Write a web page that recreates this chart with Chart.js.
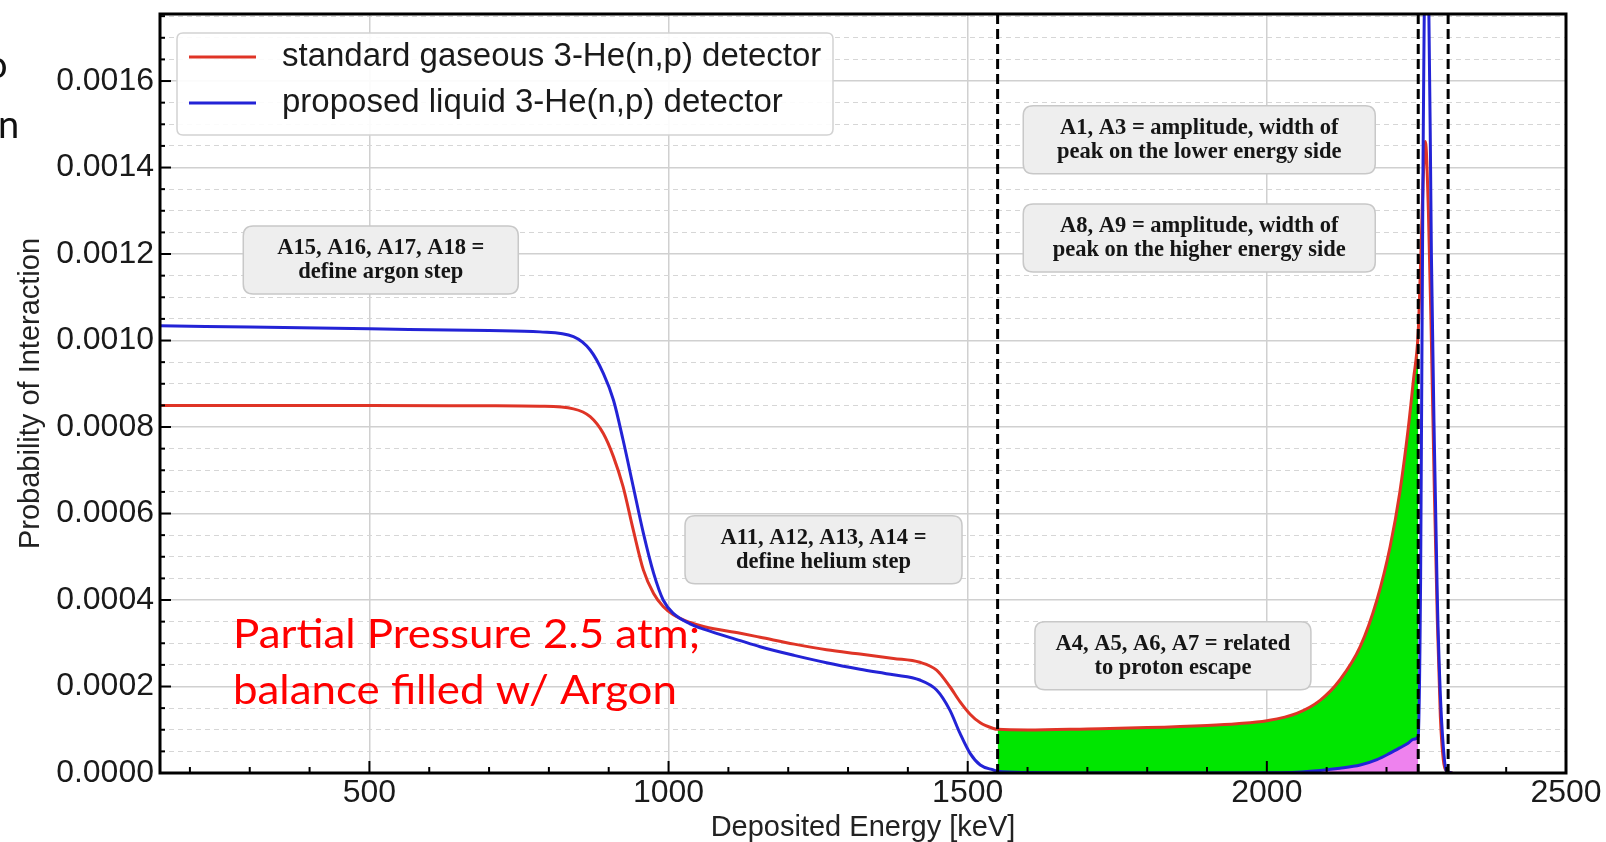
<!DOCTYPE html>
<html>
<head>
<meta charset="utf-8">
<title>3-He(n,p) detector response</title>
<script src="https://cdn.jsdelivr.net/npm/chart.js@4.4.1/dist/chart.umd.min.js"></script>
<style>
  body { margin: 0; background: #fff; overflow: hidden; }
  #wrap { position: relative; width: 1606px; height: 842px; }
  .edge { position: absolute; font-family: Lato, sans-serif; font-size: 38px; color: #111; line-height: 1; }
</style>
</head>
<body>
<div id="wrap">
  <canvas id="chart" width="1606" height="842"></canvas>
  <div class="edge" style="left:-14px; top:44px">o</div>
  <div class="edge" style="left:-2px; top:104px">n</div>
</div>
<script>
// Deposited energy grid [keV]
const energy = [150, 300, 500, 700, 785, 841, 869, 891, 908, 924,
  941, 958, 975, 991, 1008, 1036, 1060, 1120, 1153, 1210,
  1264, 1320, 1376, 1420, 1448, 1470, 1487, 1504, 1521, 1543,
  1550, 1600, 1700, 1800, 1900, 1950, 2000, 2050, 2089, 2122,
  2156, 2184, 2206, 2222, 2236, 2245, 2253, 2257, 2261, 2265,
  2270, 2275, 2280, 2285, 2290, 2295, 2300, 2310];

// standard gaseous 3-He(n,p) detector
const gaseous = [0.00085, 0.00085, 0.00085, 0.000849, 0.000848, 0.000842, 0.000824, 0.000785, 0.000731, 0.000662,
  0.000562, 0.000469, 0.000415, 0.000385, 0.000366, 0.000348, 0.000338, 0.000323, 0.000314, 0.000298,
  0.000285, 0.000275, 0.000265, 0.000256, 0.000238, 0.0002, 0.000165, 0.000136, 0.000116, 0.000103,
  0.000101, 0.0000995, 0.000102, 0.000105, 0.00011, 0.000114, 0.000121, 0.000138, 0.000168, 0.000215,
  0.000292, 0.0004, 0.000523, 0.000647, 0.000793, 0.000909, 0.00102, 0.00118, 0.00136, 0.00146,
  0.0013, 0.001, 0.00065, 0.00035, 0.00013, 0.00003, 0.000005, 0];

// proposed liquid 3-He(n,p) detector
const liquid = [0.001034, 0.001031, 0.001027, 0.001023, 0.00102, 0.001009, 0.000978, 0.000924, 0.000862, 0.00077,
  0.000662, 0.000554, 0.000462, 0.0004, 0.000369, 0.000345, 0.000332, 0.000306, 0.000292, 0.000272,
  0.000255, 0.00024, 0.000227, 0.000215, 0.000192, 0.000146, 0.000092, 0.0000455, 0.0000185, 0.000007,
  0.000004, 0.000001, 0, 0, 0, 0, 0.0000005, 0.000002, 0.000006, 0.000011,
  0.0000185, 0.000031, 0.000046, 0.000058, 0.000069, 0.000078, 0.000085, 0.00045, 0.0014, 0.0019,
  0.00185, 0.0012, 0.00076, 0.0004, 0.00018, 0.00006, 0.000005, 0];

const seriesLabels = ["standard gaseous 3-He(n,p) detector", "proposed liquid 3-He(n,p) detector"];

// dashed marker lines [keV]
const markerLines = [1550, 2253, 2303];

const xMin = 150, xMax = 2500, xMinorStep = 100;
const xTicks = [500, 1000, 1500, 2000, 2500];
const yMax = 0.001755, yStep = 0.0002, yMinorStep = 0.00005;

// annotation boxes: anchored at (energy, probability)
const noteText = [
  ["A15, A16, A17, A18 =", "define argon step"],
  ["A1, A3 = amplitude, width of", "peak on the lower energy side"],
  ["A8, A9 = amplitude, width of", "peak on the higher energy side"],
  ["A11, A12, A13, A14 =", "define helium step"],
  ["A4, A5, A6, A7 = related", "to proton escape"],
];
const noteEnergy = [519, 1887, 1887, 1259, 1843];
const noteLevel = [0.001186, 0.001464, 0.001237, 0.000516, 0.000271];

const pressureText = ["Partial Pressure 2.5 atm;", "balance filled w/ Argon"];
const pressureEnergy = 272;
const pressureLevel = [0.000289, 0.00016];

// proton-escape region between the first two marker lines
const inEscape = (e) => e >= markerLines[0] && e <= markerLines[1];
const escapeTop = energy.map((e, i) => (inEscape(e) ? gaseous[i] : null));
const escapeBase = energy.map((e, i) => (inEscape(e) ? liquid[i] : null));

const isMajor = (v, step) => Math.abs(v / step - Math.round(v / step)) < 1e-6;

function roundBox(ctx, x, y, w, h, r) {
  ctx.beginPath();
  ctx.moveTo(x + r, y);
  ctx.lineTo(x + w - r, y);
  ctx.quadraticCurveTo(x + w, y, x + w, y + r);
  ctx.lineTo(x + w, y + h - r);
  ctx.quadraticCurveTo(x + w, y + h, x + w - r, y + h);
  ctx.lineTo(x + r, y + h);
  ctx.quadraticCurveTo(x, y + h, x, y + h - r);
  ctx.lineTo(x, y + r);
  ctx.quadraticCurveTo(x, y, x + r, y);
  ctx.closePath();
}

// marker lines, inward ticks and the black frame
const framePlugin = {
  id: "framePlugin",
  afterDatasetsDraw(chart) {
    const { ctx, chartArea: a, scales } = chart;
    const x = scales.x, y = scales.y;
    ctx.save();

    ctx.strokeStyle = "#000";
    ctx.lineWidth = 3;
    ctx.setLineDash([10, 5]);
    markerLines.forEach((v) => {
      const px = x.getPixelForValue(v);
      ctx.beginPath();
      ctx.moveTo(px, a.top);
      ctx.lineTo(px, a.bottom);
      ctx.stroke();
    });
    ctx.setLineDash([]);

    ctx.lineWidth = 2;
    scales.y2.ticks.forEach((t) => {
      const py = y.getPixelForValue(t.value);
      const len = isMajor(t.value, yStep) ? 11 : 5;
      ctx.beginPath();
      ctx.moveTo(a.left, py);
      ctx.lineTo(a.left + len, py);
      ctx.stroke();
    });
    for (let v = Math.ceil(xMin / xMinorStep) * xMinorStep; v < xMax; v += xMinorStep) {
      const px = x.getPixelForValue(v);
      const len = xTicks.includes(v) ? 12 : 6;
      ctx.beginPath();
      ctx.moveTo(px, a.bottom);
      ctx.lineTo(px, a.bottom - len);
      ctx.stroke();
    }

    ctx.lineWidth = 3;
    ctx.strokeRect(a.left, a.top, a.width, a.height);
    ctx.restore();
  },
};

const noteBoxW = [275, 352, 352, 277, 276];

// legend box, annotation boxes and the red pressure note
const notesPlugin = {
  id: "notesPlugin",
  afterDraw(chart) {
    const { ctx, chartArea: a, scales } = chart;
    const x = scales.x, y = scales.y;
    ctx.save();

    // legend
    const lx = a.left + 17, ly = a.top + 19;
    roundBox(ctx, lx, ly, 656, 102, 6);
    ctx.fillStyle = "rgba(255,255,255,0.9)";
    ctx.fill();
    ctx.strokeStyle = "#d2d2d2";
    ctx.lineWidth = 1.5;
    ctx.stroke();
    ctx.font = "33px 'Liberation Sans'";
    ctx.textAlign = "left";
    ctx.textBaseline = "middle";
    chart.data.datasets.slice(0, 2).forEach((ds, i) => {
      const ry = ly + 24 + i * 46;
      ctx.strokeStyle = ds.borderColor;
      ctx.lineWidth = 3;
      ctx.beginPath();
      ctx.moveTo(lx + 12, ry);
      ctx.lineTo(lx + 79, ry);
      ctx.stroke();
      ctx.fillStyle = "#1a1a1a";
      ctx.fillText(ds.label, lx + 105, ry);
    });

    // annotation boxes
    noteText.forEach((lines, i) => {
      const cx = x.getPixelForValue(noteEnergy[i]);
      const cy = y.getPixelForValue(noteLevel[i]);
      const w = noteBoxW[i], h = 68;
      roundBox(ctx, cx - w / 2, cy - h / 2, w, h, 10);
      ctx.fillStyle = "#eeeeee";
      ctx.fill();
      ctx.strokeStyle = "#c8c8c8";
      ctx.lineWidth = 1.5;
      ctx.stroke();
      ctx.fillStyle = "#151515";
      ctx.font = "bold 22.5px 'Liberation Serif'";
      ctx.textAlign = "center";
      ctx.textBaseline = "middle";
      ctx.fillText(lines[0], cx, cy - 12);
      ctx.fillText(lines[1], cx, cy + 12);
    });

    // partial pressure note
    ctx.fillStyle = "#ff0000";
    ctx.font = "41px Lato";
    ctx.textAlign = "left";
    ctx.textBaseline = "alphabetic";
    pressureText.forEach((t, i) => {
      ctx.save();
      ctx.translate(x.getPixelForValue(pressureEnergy), y.getPixelForValue(pressureLevel[i]));
      ctx.scale(1.07, 1);
      ctx.fillText(t, 0, 0);
      ctx.restore();
    });
    ctx.restore();
  },
};

const lineStyle = {
  pointRadius: 0,
  borderWidth: 3,
  cubicInterpolationMode: "monotone",
  fill: false,
};

const tickFont = { family: "'Liberation Sans'", size: 32 };
const titleFont = { family: "'Liberation Sans'", size: 29, lineHeight: 1 };
const noEdgePadding = (scale) => {
  scale.paddingTop = 0;
  scale.paddingBottom = 0;
  scale.paddingLeft = 0;
  scale.paddingRight = 0;
};

new Chart(document.getElementById("chart"), {
  type: "line",
  data: {
    labels: energy,
    datasets: [
      { ...lineStyle, label: seriesLabels[0], data: gaseous, borderColor: "#df3426", order: 1 },
      { ...lineStyle, label: seriesLabels[1], data: liquid, borderColor: "#2323d6", order: 0 },
      { ...lineStyle, label: "escape", data: escapeTop, borderWidth: 0, backgroundColor: "#00e600", fill: 3, order: 3 },
      { ...lineStyle, label: "escape base", data: escapeBase, borderWidth: 0, backgroundColor: "#ee82ee", fill: "origin", order: 3 },
    ],
  },
  options: {
    responsive: false,
    animation: false,
    devicePixelRatio: 1,
    layout: { padding: { left: 0, top: 14, right: 40, bottom: 0 } },
    plugins: { legend: { display: false }, tooltip: { enabled: false } },
    scales: {
      x: {
        type: "linear",
        min: xMin,
        max: xMax,
        afterBuildTicks: (scale) => { scale.ticks = xTicks.map((v) => ({ value: v })); },
        ticks: {
          maxRotation: 0,
          autoSkip: false,
          padding: 1,
          color: "#1a1a1a",
          font: tickFont,
          callback: (v) => String(v),
        },
        grid: { color: "#d0d0d0", lineWidth: 1.5, drawTicks: false },
        border: { display: false },
        title: {
          display: true,
          text: "Deposited Energy [keV]",
          color: "#222",
          font: titleFont,
          padding: { top: 0, bottom: 0 },
        },
        afterFit: (scale) => { scale.height = 69; noEdgePadding(scale); },
      },
      y: {
        type: "linear",
        min: 0,
        max: yMax,
        ticks: {
          stepSize: yStep,
          includeBounds: false,
          padding: 6,
          color: "#1a1a1a",
          font: tickFont,
          callback: (v) => Number(v).toFixed(4),
        },
        grid: { color: "#d0d0d0", lineWidth: 1.5, drawTicks: false },
        border: { display: false },
        title: {
          display: true,
          text: "Probability of Interaction",
          color: "#222",
          font: titleFont,
          padding: { top: 16, bottom: 0 },
        },
        afterFit: (scale) => { scale.width = 160; noEdgePadding(scale); },
      },
      y2: {
        type: "linear",
        position: "left",
        min: 0,
        max: yMax,
        ticks: { stepSize: yMinorStep, includeBounds: false, display: false },
        grid: {
          drawTicks: false,
          lineWidth: 1,
          color: (c) => (c.tick && isMajor(c.tick.value, yStep) ? "rgba(0,0,0,0)" : "#d6d6d6"),
        },
        border: { display: false, dash: [5, 4] },
        afterFit: (scale) => { scale.width = 0; noEdgePadding(scale); },
      },
    },
  },
  plugins: [framePlugin, notesPlugin],
});
</script>
</body>
</html>
